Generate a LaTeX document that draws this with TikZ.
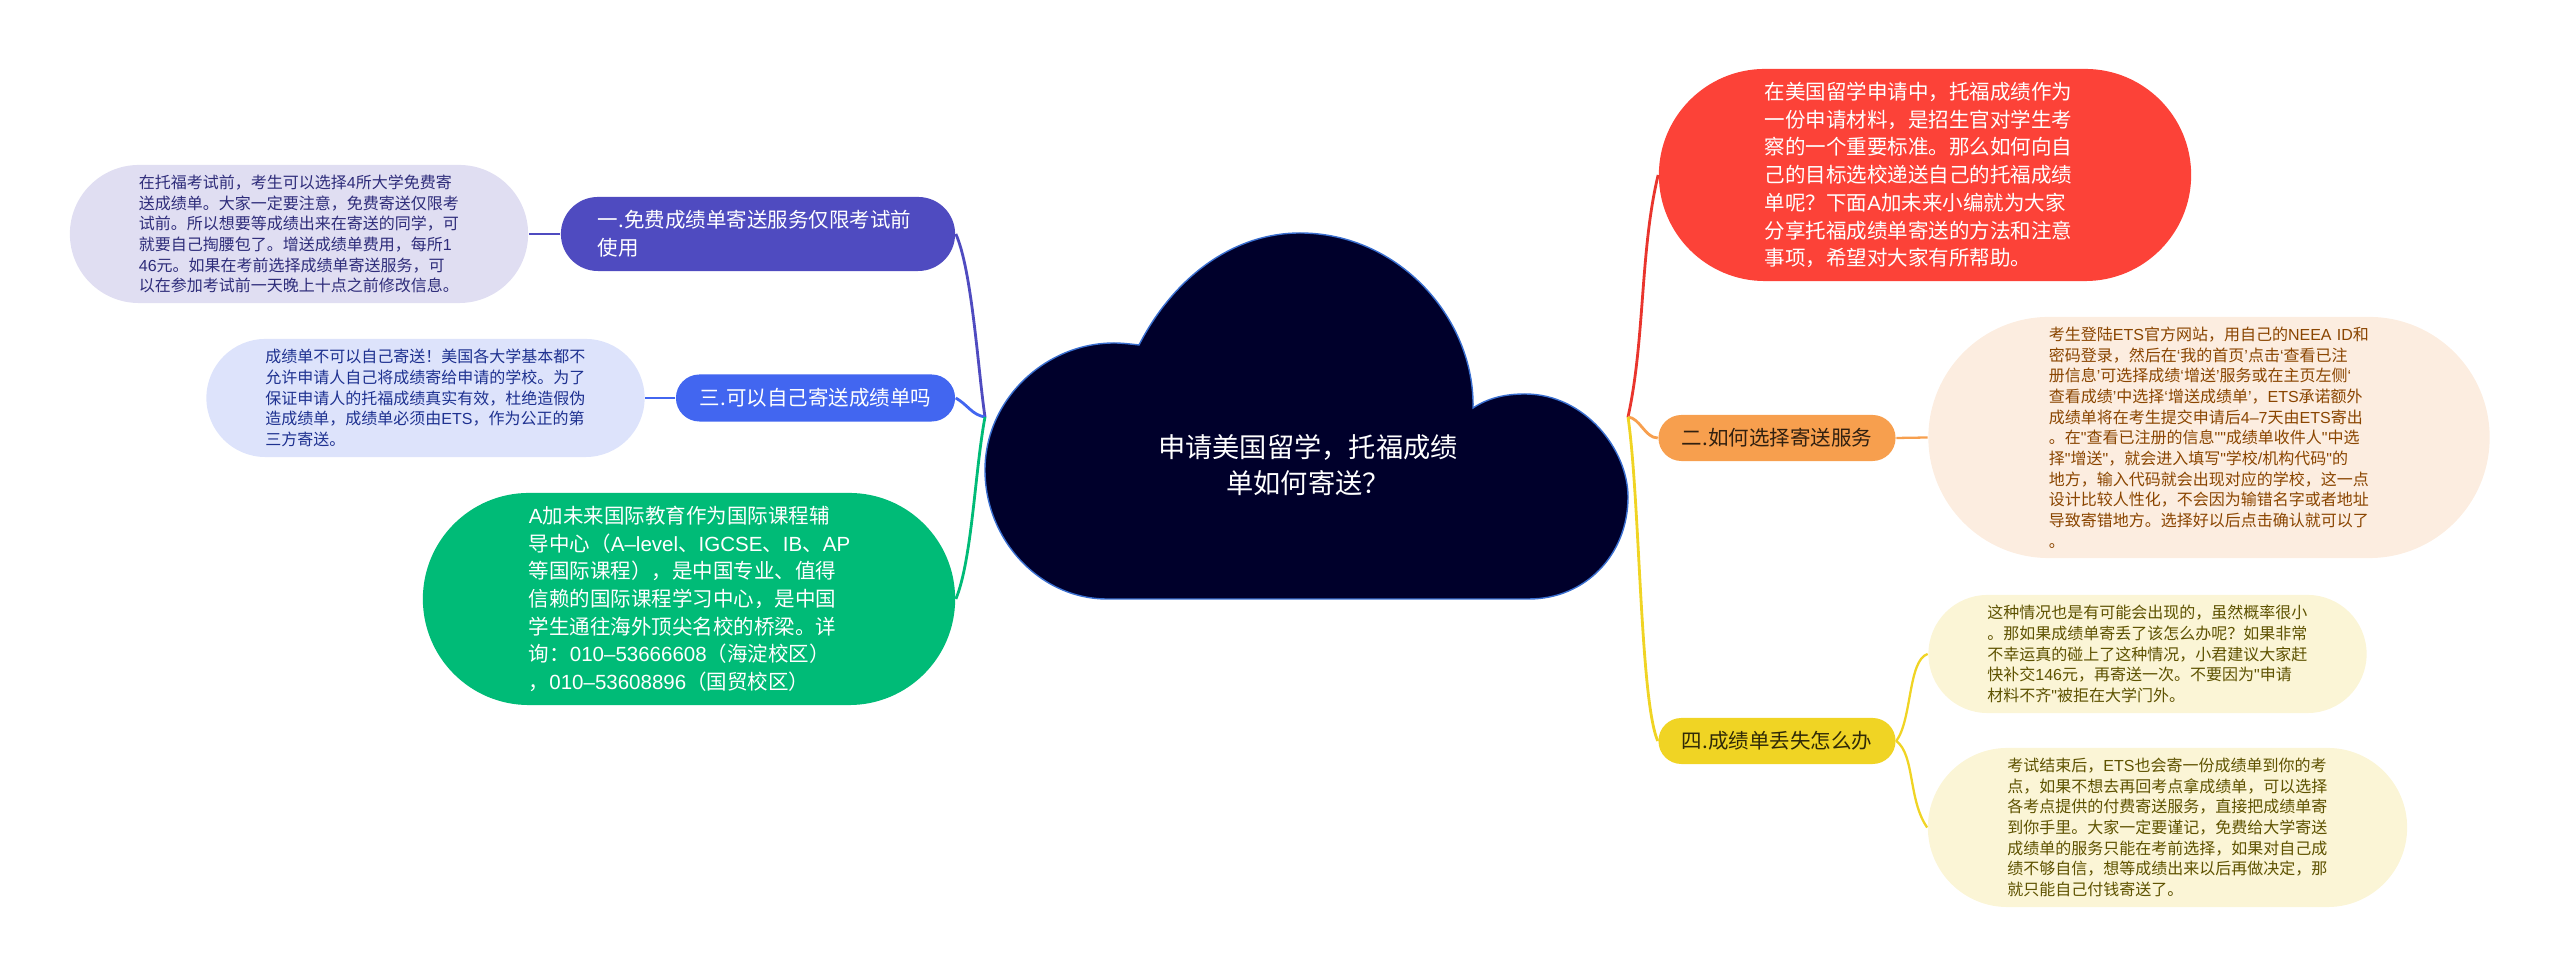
\documentclass[tikz,border=0pt]{standalone}
\usepackage{fontspec}
\setmainfont{Noto Sans CJK SC}
\newfontfamily\latn{Liberation Sans}
\newcommand{\lat}[1]{\mbox{\latn #1}}
\definecolor{rootfill}{HTML}{00002B}
\definecolor{rootedge}{HTML}{3A6FD0}
\definecolor{redmain}{HTML}{FC4238}
\definecolor{redline}{HTML}{E9352D}
\definecolor{orangemain}{HTML}{F79F4E}
\definecolor{orangenote}{HTML}{FCEDE0}
\definecolor{orangetext}{HTML}{8A4500}
\definecolor{yellowmain}{HTML}{F0D424}
\definecolor{yellownote}{HTML}{FBF5D6}
\definecolor{yellowtext}{HTML}{5E5200}
\definecolor{purplemain}{HTML}{4F4BC0}
\definecolor{purplenote}{HTML}{E0DEF2}
\definecolor{purpletext}{HTML}{2E2C7A}
\definecolor{bluemain}{HTML}{4266F0}
\definecolor{bluenote}{HTML}{DDE3FB}
\definecolor{bluetext}{HTML}{1E3190}
\definecolor{greenmain}{HTML}{00BB77}
\tikzset{
  pill/.style={rectangle, align=left, inner ysep=0pt, minimum height=#1,
    inner xsep=0.5*#1, rounded corners=0.5*#1, text width=3.2cm},
  short/.style={rectangle, align=center, inner sep=0pt, minimum height=#1,
    minimum width=2.37cm, rounded corners=0.5*#1},
  big/.style={font=\fontsize{5.83}{7.88}\selectfont},
  small/.style={font=\fontsize{4.55}{5.88}\selectfont},
  trunk/.style={line width=0.8pt},
  twig/.style={line width=0.65pt}
}
\begin{document}
\begin{tikzpicture}[x=0.01cm,y=-0.01cm]
\useasboundingbox (0,0) rectangle (2560,977);
\fill[rootfill, draw=rootedge, line width=0.4pt] (1139,345) .. controls (1175,275) and (1235,233) .. (1300,233)
  .. controls (1400,233) and (1475,320) .. (1473,408)
  .. controls (1488,398) and (1505,394) .. (1525,394)
  .. controls (1585,394) and (1628,450) .. (1628,497)
  .. controls (1628,555) and (1585,599) .. (1529,599)
  -- (1107,599)
  .. controls (1040,599) and (985,540) .. (985,470)
  .. controls (985,400) and (1045,343) .. (1114,343)
  .. controls (1122,343) and (1130,344) .. (1139,345) -- cycle;
\node[align=center, text=white, font=\fontsize{7.74}{10.24}\selectfont] (root) at (1308,465) {申请美国留学^^^^ff0c托福成绩\\单如何寄送^^^^ff1f};
\coordinate (hubl) at (985,417);
\coordinate (hubr) at (1628,417);

\node[pill=2.12cm, big, fill=redmain, text=white] (intro) at (1925,175) {在美国留学申请中^^^^ff0c托福成绩作为\\一份申请材料^^^^ff0c是招生官对学生考\\察的一个重要标准。那么如何向自\\己的目标选校递送自己的托福成绩\\单呢^^^^ff1f下面\lat{A}加未来小编就为大家\\分享托福成绩单寄送的方法和注意\\事项^^^^ff0c希望对大家有所帮助。};
\node[short=0.46cm, big, fill=orangemain, text=black!80!orangemain] (second) at (1777,438) {二.如何选择寄送服务};
\node[short=0.46cm, big, fill=yellowmain, text=black!80!yellowmain] (fourth) at (1777,741) {四.成绩单丢失怎么办};
\node[pill=0.74cm, big, fill=purplemain, text=white] (first) at (758,234) {一.免费成绩单寄送服务仅限考试前\\使用};
\node[short=0.47cm, big, fill=bluemain, text=white, minimum width=2.79cm] (third) at (815.5,398) {三.可以自己寄送成绩单吗};
\node[pill=2.12cm, big, fill=greenmain, text=white] (ad) at (689,599) {\lat{A}加未来国际教育作为国际课程辅\\导中心^^^^ff08\lat{A–level}、\lat{IGCSE}、\lat{IB}、\lat{AP}\\等国际课程^^^^ff09^^^^ff0c是中国专业、值得\\信赖的国际课程学习中心^^^^ff0c是中国\\学生通往海外顶尖名校的桥梁。详\\询^^^^ff1a\lat{010–53666608}^^^^ff08海淀校区^^^^ff09\\^^^^ff0c\lat{010–53608896}^^^^ff08国贸校区^^^^ff09};

\node[pill=1.38cm, small, fill=purplenote, text=purpletext] (firstnote) at (299,234) {在托福考试前^^^^ff0c考生可以选择\lat{4}所大学免费寄\\送成绩单。大家一定要注意^^^^ff0c免费寄送仅限考\\试前。所以想要等成绩出来在寄送的同学^^^^ff0c可\\就要自己掏腰包了。增送成绩单费用^^^^ff0c每所\lat{1}\\\lat{46}元。如果在考前选择成绩单寄送服务^^^^ff0c可\\以在参加考试前一天晚上十点之前修改信息。};
\node[pill=1.18cm, small, fill=bluenote, text=bluetext] (thirdnote) at (425.5,398) {成绩单不可以自己寄送^^^^ff01美国各大学基本都不\\允许申请人自己将成绩寄给申请的学校。为了\\保证申请人的托福成绩真实有效^^^^ff0c杜绝造假伪\\造成绩单^^^^ff0c成绩单必须由\lat{ETS}^^^^ff0c作为公正的第\\三方寄送。};
\node[pill=2.41cm, small, fill=orangenote, text=orangetext] (secondnote) at (2209,437.5) {考生登陆\lat{ETS}官方网站^^^^ff0c用自己的\lat{NEEA~ID}和\\密码登录^^^^ff0c然后在\lat{‘}我的首页\lat{’}点击\lat{‘}查看已注\\册信息\lat{’}可选择成绩\lat{‘}增送\lat{’}服务或在主页左侧\lat{‘}\\查看成绩\lat{’}中选择\lat{‘}增送成绩单\lat{’}^^^^ff0c\lat{ETS}承诺额外\\成绩单将在考生提交申请后\lat{4–7}天由\lat{ETS}寄出\\。在\lat{"}查看已注册的信息\lat{""}成绩单收件人\lat{"}中选\\择\lat{"}增送\lat{"}^^^^ff0c就会进入填写\lat{"}学校\lat{/}机构代码\lat{"}的\\地方^^^^ff0c输入代码就会出现对应的学校^^^^ff0c这一点\\设计比较人性化^^^^ff0c不会因为输错名字或者地址\\导致寄错地方。选择好以后点击确认就可以了\\。};
\node[pill=1.18cm, small, fill=yellownote, text=yellowtext] (lostnote) at (2147.5,654) {这种情况也是有可能会出现的^^^^ff0c虽然概率很小\\。那如果成绩单寄丢了该怎么办呢^^^^ff1f如果非常\\不幸运真的碰上了这种情况^^^^ff0c小君建议大家赶\\快补交\lat{146}元^^^^ff0c再寄送一次。不要因为\lat{"}申请\\材料不齐\lat{"}被拒在大学门外。};
\node[pill=1.59cm, small, fill=yellownote, text=yellowtext] (copynote) at (2167.5,827.5) {考试结束后^^^^ff0c\lat{ETS}也会寄一份成绩单到你的考\\点^^^^ff0c如果不想去再回考点拿成绩单^^^^ff0c可以选择\\各考点提供的付费寄送服务^^^^ff0c直接把成绩单寄\\到你手里。大家一定要谨记^^^^ff0c免费给大学寄送\\成绩单的服务只能在考前选择^^^^ff0c如果对自己成\\绩不够自信^^^^ff0c想等成绩出来以后再做决定^^^^ff0c那\\就只能自己付钱寄送了。};

\draw[trunk, redline] (hubr) .. controls (1645,340) and (1640,250) .. (intro.west);
\draw[trunk, orangemain] (hubr) .. controls (1640,418) and (1645,438) .. (second.west);
\draw[trunk, yellowmain] (hubr) .. controls (1640,500) and (1640,700) .. (fourth.west);
\draw[trunk, purplemain] (hubl) .. controls (978,370) and (972,270) .. (first.east);
\draw[trunk, bluemain] (hubl) .. controls (972,415) and (968,405) .. (third.east);
\draw[trunk, greenmain] (hubl) .. controls (975,470) and (972,560) .. (ad.east);
\draw[twig, purplemain] (first.west) -- (firstnote.east);
\draw[twig, bluemain] (third.west) -- (thirdnote.east);
\draw[twig, orangemain] (second.east) -- (secondnote.west);
\draw[twig, yellowmain] (fourth.east) .. controls (1912,720) and (1908,660) .. (lostnote.west);
\draw[twig, yellowmain] (fourth.east) .. controls (1915,755) and (1908,800) .. (copynote.west);
\end{tikzpicture}
\end{document}
